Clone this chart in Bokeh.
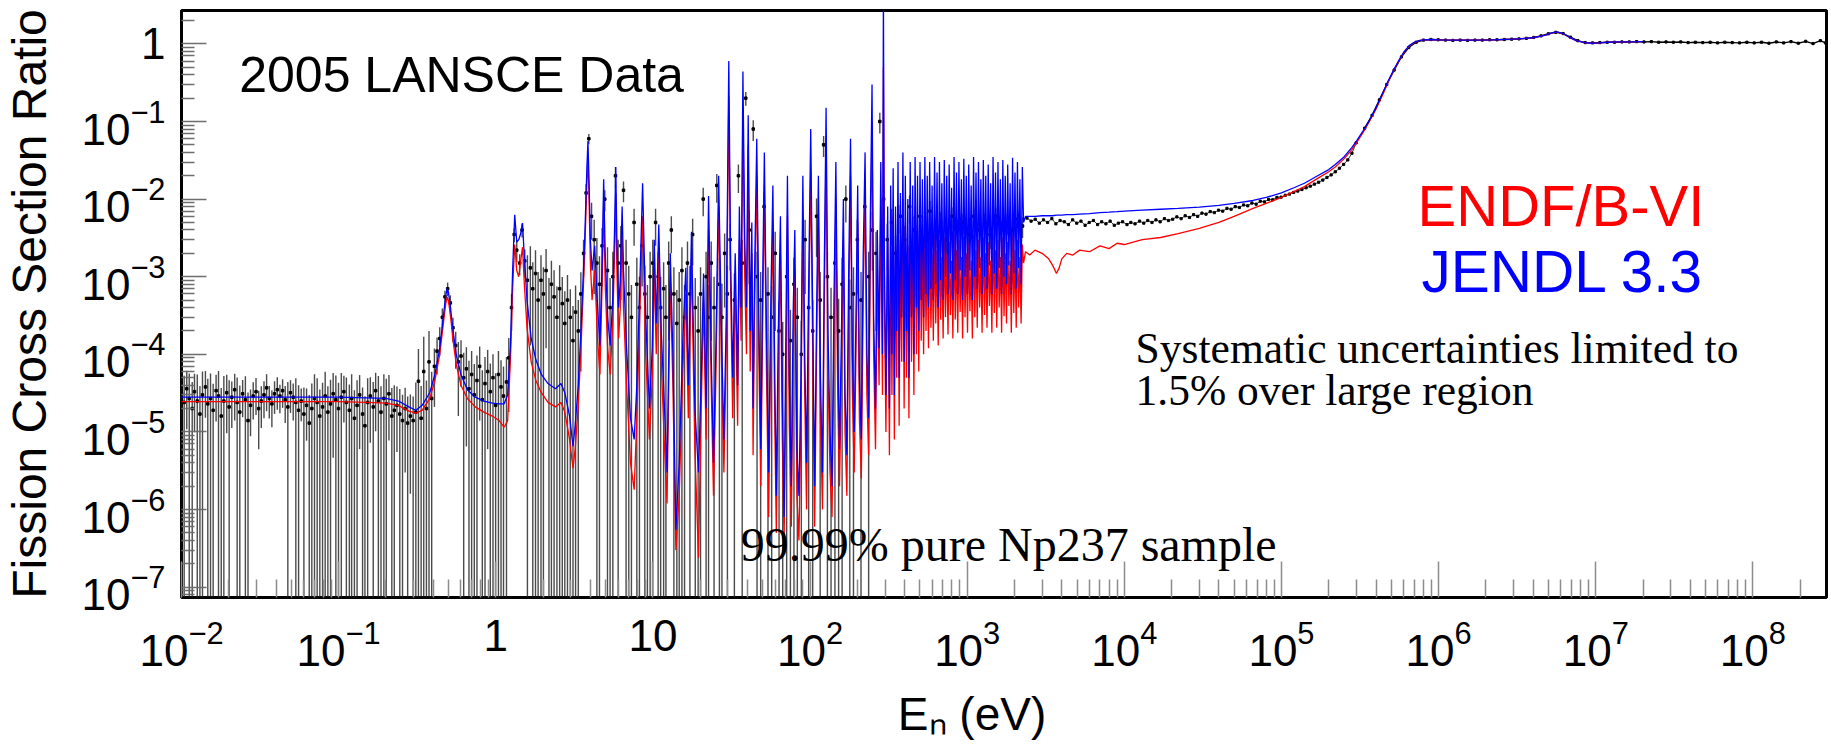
from bokeh.plotting import figure
from bokeh.models import FixedTicker, LogTickFormatter, Label, ColumnDataSource
from bokeh.embed import file_html
from bokeh.resources import INLINE

# ---------------- evaluated curves (ENDF/B-VI red, JENDL 3.3 blue) ----------------
E_res = [0.01, 0.05, 0.1, 0.15, 0.2, 0.24, 0.28, 0.31, 0.34, 0.38,
         0.41, 0.44, 0.465, 0.48, 0.49, 0.50, 0.515, 0.535, 0.56, 0.6,
         0.66, 0.74, 0.84, 0.95, 1.05, 1.13, 1.19, 1.24, 1.28, 1.32,
         1.36, 1.40, 1.44, 1.48, 1.52, 1.58, 1.68, 1.8, 1.95, 2.15,
         2.4, 2.6, 2.75, 2.95, 3.1, 3.2, 3.35, 3.5, 3.68, 3.8,
         3.86, 3.92, 4.0, 4.1, 4.26, 4.45, 4.6, 4.75, 4.86, 4.97,
         5.15, 5.35, 5.55, 5.7, 5.8, 5.9, 6.05, 6.2, 6.37, 6.5,
         6.8, 7.2, 7.6, 7.9, 8.2, 8.6, 9.0, 9.5, 9.9, 10.2,
         10.5, 10.9, 11.3, 11.8, 12.3, 12.9, 13.4, 14.0, 14.7, 15.5,
         16.2, 16.8, 17.6, 18.5, 19.5, 20.3, 21.0, 21.8, 22.6, 23.5,
         24.3, 25.2, 26.2, 27.3, 28.3, 29.3, 30.4, 31.2, 32.2, 33.4,
         34.6, 35.5, 36.4, 37.4, 38.4, 39.4, 40.4, 41.6, 42.6, 43.4,
         44.4, 45.8, 47.2, 48.6, 50.0, 51.2, 52.8, 54.5, 56.3, 58.0,
         59.5, 61.0, 62.8, 64.8, 66.6, 68.4, 70.0, 71.8, 73.8, 76.0,
         78.0, 80.0, 82.5, 85.0, 87.5, 90.0, 92.5, 95.0, 98.0, 101,
         104, 107, 110, 113, 116.5, 120, 123, 126.5, 130, 134,
         138, 142, 146, 150, 154, 158.5, 163, 167, 171.5, 176,
         181, 186, 191, 196, 201, 206, 212, 218, 224, 230,
         236, 242, 248, 254, 261, 268, 275, 282, 289, 293,
         297, 304, 312]
jendl_res = [2.8e-5, 2.8e-5, 2.8e-5, 2.75e-5, 2.7e-5, 2.5e-5, 2.1e-5, 1.9e-5, 2.2e-5, 3.2e-5,
             5.5e-5, 1.2e-4, 3.2e-4, 5.6e-4, 7.0e-4, 6.3e-4, 4.0e-4, 2.0e-4, 1.0e-4, 5.5e-5,
             3.5e-5, 2.8e-5, 2.5e-5, 2.35e-5, 2.3e-5, 2.3e-5, 3.0e-5, 1.3e-4, 1.2e-3, 6.3e-3,
             2.8e-3, 3.0e-3, 3.6e-3, 4.9e-3, 1.8e-3, 5e-4, 1.6e-4, 8.5e-5, 5.5e-5, 4.2e-5,
             3.6e-5, 4.2e-5, 3.2e-5, 1.6e-5, 6.5e-6, 1.2e-5, 4e-5, 2.5e-4, 3e-3, 2.5e-2,
             5.6e-2, 1.8e-2, 3e-3, 1.2e-3, 2.5e-3, 4e-4, 1.3e-4, 1.5e-3, 1.8e-2, 2e-3,
             3e-4, 1.3e-4, 5e-4, 4e-3, 2.6e-2, 3e-3, 4e-4, 9e-4, 8e-3, 1.2e-3,
             1.2e-4, 1.5e-5, 8e-6, 4e-5, 5e-4, 1.6e-2, 3e-4, 2e-5, 1.2e-4, 3e-3,
             2.5e-4, 4.7e-3, 2e-4, 2.5e-5, 3e-6, 2e-3, 1e-4, 5.5e-7, 4e-6, 1.5e-4,
             1.3e-3, 4e-5, 3.8e-3, 2e-5, 3e-6, 5e-5, 1.1e-3, 2e-5, 1.1e-2, 1e-4,
             4e-6, 1.5e-4, 2e-2, 2e-4, 8e-6, 3e-4, 0.6, 2e-3, 5e-5, 2e-3,
             4e-5, 8e-3, 4e-4, 0.44, 3e-3, 4e-4, 0.12, 2e-4, 5e-3, 2e-5,
             1.2e-3, 0.06, 3e-4, 6e-6, 1e-3, 4e-2, 2e-4, 3e-6, 5e-4, 1.5e-2,
             8e-5, 1.5e-6, 2e-4, 6e-3, 3e-5, 8e-7, 1e-4, 2e-2, 5e-5, 2e-6,
             3e-4, 4e-3, 6e-6, 1.5e-6, 5e-5, 2e-2, 1e-4, 4e-6, 8e-4, 8e-2,
             3e-4, 2e-6, 3e-4, 2e-2, 5e-5, 3e-6, 1e-3, 0.15, 2e-4, 1e-5,
             2e-6, 5e-4, 3e-2, 1e-4, 6e-6, 2e-4, 1e-2, 3e-5, 5e-6, 1e-3,
             6e-2, 1e-4, 1e-5, 3e-4, 1.5e-2, 5e-5, 8e-6, 2e-3, 4e-2, 1e-4,
             1.5e-5, 6e-3, 0.3, 3e-4, 2e-5, 4e-3, 1.2e-4, 3e-2, 1e-4, 5.0,
             2e-3, 3e-5, 8e-3]
endf_res = [2.45e-5, 2.45e-5, 2.45e-5, 2.4e-5, 2.35e-5, 2.2e-5, 1.85e-5, 1.75e-5, 1.9e-5, 2.7e-5,
            4.6e-5, 1.0e-4, 2.6e-4, 4.4e-4, 5.5e-4, 4.9e-4, 3.1e-4, 1.5e-4, 7.5e-5, 4.0e-5,
            2.7e-5, 2.1e-5, 1.8e-5, 1.6e-5, 1.4e-5, 1.15e-5, 1.4e-5, 8.5e-5, 7e-4, 2.6e-3,
            1.2e-3, 1.0e-3, 1.6e-3, 2.4e-3, 8e-4, 2.2e-4, 8e-5, 4.6e-5, 3.2e-5, 2.4e-5,
            2.1e-5, 2.4e-5, 1.8e-5, 8e-6, 3.4e-6, 6e-6, 2.2e-5, 1.5e-4, 2e-3, 1.6e-2,
            3.5e-2, 1.1e-2, 1.5e-3, 5e-4, 1.2e-3, 1.5e-4, 5.5e-5, 8e-4, 9e-3, 8e-4,
            1.2e-4, 5.5e-5, 2.5e-4, 2e-3, 1.2e-2, 1.2e-3, 1.6e-4, 4e-4, 3.5e-3, 4e-4,
            4e-5, 4e-6, 1.8e-6, 1.5e-5, 2e-4, 6e-3, 1e-4, 8e-6, 5e-5, 1.3e-3,
            1e-4, 2e-3, 8e-5, 8e-6, 1.2e-6, 9e-4, 4e-5, 3e-7, 1.5e-6, 6e-5,
            6e-4, 1.5e-5, 1.6e-3, 6e-6, 2.4e-7, 2e-5, 5e-4, 8e-6, 4e-3, 4e-5,
            1.5e-6, 6e-5, 8e-3, 8e-5, 3e-6, 1.2e-4, 0.21, 8e-4, 1.5e-5, 8e-4,
            1.2e-5, 3e-3, 1.5e-4, 0.15, 1e-3, 1e-4, 0.05, 6e-5, 2e-3, 5e-6,
            4e-4, 0.02, 1e-4, 2e-6, 3e-4, 1.5e-2, 6e-5, 8e-7, 1.5e-4, 5e-3,
            2e-5, 5e-7, 6e-5, 2e-3, 8e-6, 4e-7, 3e-5, 6e-3, 1.2e-5, 6e-7,
            1e-4, 1.2e-3, 1.5e-6, 4e-7, 1.5e-5, 6e-3, 3e-5, 1e-6, 2.5e-4, 2.5e-2,
            1e-4, 6e-7, 1e-4, 6e-3, 1.5e-5, 1e-6, 3e-4, 0.05, 6e-5, 3e-6,
            8e-7, 1.5e-4, 1e-2, 3e-5, 2e-6, 6e-5, 3e-3, 1e-5, 1.5e-6, 3e-4,
            2e-2, 3e-5, 3e-6, 1e-4, 5e-3, 1.5e-5, 2.5e-6, 6e-4, 1.2e-2, 3e-5,
            5e-6, 2e-3, 0.1, 1e-4, 6e-6, 1.2e-3, 4e-5, 1e-2, 3e-5, 0.5,
            6e-4, 1e-5, 3e-3]

E_band = [320, 326, 332, 338, 344, 350, 356, 363, 369, 376,
          383, 390, 397, 404, 411, 419, 426, 434, 442, 450,
          458, 466, 475, 483, 492, 501, 510, 519, 528, 538,
          547, 557, 567, 577, 588, 598, 609, 620, 631, 643,
          654, 666, 678, 690, 703, 715, 728, 741, 755, 768,
          782, 796, 811, 825, 840, 855, 871, 886, 902, 919,
          935, 952, 969, 987, 1005, 1023, 1041, 1060, 1079, 1098,
          1118, 1138, 1159, 1180, 1201, 1222, 1244, 1267, 1290, 1313,
          1337, 1361, 1385, 1410, 1436, 1461, 1488, 1515, 1542, 1570,
          1598, 1627, 1656, 1686, 1716, 1747, 1779, 1811, 1843, 1876,
          1910, 1945, 1980, 2015, 2052, 2089, 2126, 2165, 2204, 2244,
          2284]
jendl_band = [2e-5, 1.5e-2, 1e-4, 2.5e-2, 3e-5, 8e-3, 2e-4, 3e-2, 5e-5, 1.2e-2,
              3e-4, 4e-2, 8e-5, 2e-2, 2e-4, 1e-2, 5e-5, 3e-2, 3e-4, 1.5e-2,
              1e-4, 3.5e-2, 4e-4, 2e-2, 2e-4, 3e-2, 5e-4, 1.8e-2, 3e-4, 3.5e-2,
              6e-4, 2e-2, 4e-4, 3e-2, 7e-4, 1.5e-2, 5e-4, 3.5e-2, 8e-4, 2.2e-2,
              4e-4, 3e-2, 9e-4, 1.6e-2, 5e-4, 3.2e-2, 1e-3, 2e-2, 6e-4, 2.8e-2,
              1.1e-3, 1.4e-2, 5e-4, 3.5e-2, 9e-4, 2.2e-2, 6e-4, 3e-2, 1.2e-3, 1.8e-2,
              5e-4, 3.3e-2, 1e-3, 2e-2, 6e-4, 2.8e-2, 1.2e-3, 1.5e-2, 5e-4, 3.5e-2,
              1e-3, 2.2e-2, 7e-4, 3e-2, 1.3e-3, 1.8e-2, 6e-4, 3.2e-2, 1e-3, 2e-2,
              7e-4, 2.8e-2, 1.4e-3, 1.6e-2, 6e-4, 3.5e-2, 1.1e-3, 2.2e-2, 7e-4, 3e-2,
              1.3e-3, 1.8e-2, 6e-4, 3.2e-2, 1e-3, 2e-2, 8e-4, 2.8e-2, 1.4e-3, 1.6e-2,
              6e-4, 3.4e-2, 1.1e-3, 2.2e-2, 7e-4, 3e-2, 1.3e-3, 1.8e-2, 8e-4, 2.6e-2,
              5e-3]
endf_band = [5e-6, 4e-3, 3e-5, 6e-3, 8e-6, 2.5e-3, 5e-5, 8e-3, 1.2e-5, 3e-3,
             8e-5, 1e-2, 2e-5, 5e-3, 5e-5, 2.5e-3, 1.5e-5, 7e-3, 8e-5, 4e-3,
             3e-5, 8e-3, 1e-4, 4e-3, 6e-5, 5e-3, 1.5e-4, 3e-3, 1e-4, 4e-3,
             2e-4, 2.5e-3, 1.2e-4, 3.5e-3, 2.2e-4, 2e-3, 1.5e-4, 3.5e-3, 2.5e-4, 2.2e-3,
             1.3e-4, 3e-3, 2.8e-4, 1.8e-3, 1.6e-4, 3.2e-3, 3e-4, 2e-3, 1.8e-4, 2.8e-3,
             3.2e-4, 1.6e-3, 1.6e-4, 3.5e-3, 2.8e-4, 2.2e-3, 1.9e-4, 3e-3, 3.5e-4, 1.8e-3,
             1.6e-4, 3.3e-3, 3e-4, 2e-3, 1.9e-4, 2.8e-3, 3.6e-4, 1.6e-3, 1.6e-4, 3.5e-3,
             3e-4, 2.2e-3, 2.2e-4, 3e-3, 4e-4, 1.8e-3, 1.9e-4, 3.2e-3, 3.2e-4, 2e-3,
             2.2e-4, 2.8e-3, 4.2e-4, 1.6e-3, 1.9e-4, 3.5e-3, 3.4e-4, 2.2e-3, 2.2e-4, 3e-3,
             4e-4, 1.8e-3, 1.9e-4, 3.2e-3, 3.1e-4, 2e-3, 2.5e-4, 2.8e-3, 4.2e-4, 1.6e-3,
             1.9e-4, 3.4e-3, 3.4e-4, 2.2e-3, 2.2e-4, 3e-3, 4e-4, 1.8e-3, 2.5e-4, 2.6e-3,
             1.5e-3]

E_fast = [2350, 2500, 2700, 3000, 3300, 3500, 3700, 3850, 4000, 4300,
          4700, 5200, 6000, 7000, 8000, 9000, 1e4, 1.3e4, 1.7e4, 2.2e4,
          3e4, 4e4, 5e4, 6.6e4, 8e4, 1e5, 1.2e5, 1.4e5, 1.7e5, 2e5,
          2.2e5, 2.5e5, 2.8e5, 3e5, 3.3e5, 3.6e5, 4e5, 4.4e5, 4.8e5, 5.2e5,
          5.6e5, 6e5, 6.5e5, 7e5, 7.5e5, 8e5, 9e5, 1e6, 1.3e6, 1.7e6,
          2.2e6, 3e6, 4e6, 4.8e6, 5.3e6, 5.7e6, 6.2e6, 6.8e6, 7.5e6, 8.5e6,
          9.5e6, 1.05e7, 1.2e7, 1.4e7, 1.7e7, 2e7]
jendl_fast = [6.0e-3, 6.0e-3, 6.0e-3, 6.1e-3, 6.1e-3, 6.1e-3, 6.2e-3, 6.2e-3, 6.2e-3, 6.3e-3,
              6.3e-3, 6.4e-3, 6.5e-3, 6.7e-3, 6.8e-3, 6.9e-3, 7.0e-3, 7.2e-3, 7.4e-3, 7.6e-3,
              7.9e-3, 8.3e-3, 8.8e-3, 9.6e-3, 1.05e-2, 1.2e-2, 1.4e-2, 1.6e-2, 2e-2, 2.4e-2,
              2.8e-2, 3.5e-2, 4.6e-2, 5.6e-2, 7.5e-2, 0.1, 0.15, 0.23, 0.34, 0.47,
              0.62, 0.78, 0.95, 1.05, 1.1, 1.13, 1.14, 1.13, 1.12, 1.12,
              1.13, 1.15, 1.2, 1.3, 1.4, 1.43, 1.36, 1.22, 1.1, 1.04,
              1.02, 1.03, 1.05, 1.06, 1.06, 1.07]
endf_fast = [2.1e-3, 1.9e-3, 2.2e-3, 2.0e-3, 1.7e-3, 1.4e-3, 1.1e-3, 1.3e-3, 1.7e-3, 2.0e-3,
             1.9e-3, 2.2e-3, 2.1e-3, 2.5e-3, 2.3e-3, 2.7e-3, 2.6e-3, 3.0e-3, 3.2e-3, 3.6e-3,
             4.2e-3, 5.0e-3, 6.0e-3, 7.6e-3, 8.8e-3, 1.05e-2, 1.25e-2, 1.45e-2, 1.85e-2, 2.25e-2,
             2.6e-2, 3.3e-2, 4.3e-2, 5.3e-2, 7.2e-2, 0.097, 0.145, 0.22, 0.33, 0.46,
             0.61, 0.77, 0.94, 1.04, 1.1, 1.13, 1.14, 1.13, 1.12, 1.12,
             1.13, 1.15, 1.2, 1.3, 1.39, 1.42, 1.35, 1.21, 1.1, 1.04,
             1.02, 1.03, 1.05, 1.06, 1.06, 1.07]

# ---------------- 2005 LANSCE data (value, relative error) ----------------
E_thermal = [0.0100, 0.0104, 0.0108, 0.0112, 0.0117, 0.0121, 0.0126, 0.0131, 0.0136, 0.0142,
             0.0147, 0.0153, 0.0159, 0.0166, 0.0172, 0.0179, 0.0186, 0.0194, 0.0201, 0.0209,
             0.0218, 0.0226, 0.0235, 0.0245, 0.0255, 0.0265, 0.0275, 0.0286, 0.0298, 0.0310,
             0.0322, 0.0335, 0.0348, 0.0362, 0.0376, 0.0391, 0.0407, 0.0423, 0.0440, 0.0457,
             0.0475, 0.0494, 0.0514, 0.0534, 0.0556, 0.0578, 0.0601, 0.0625, 0.0650, 0.0675,
             0.0702, 0.0730, 0.0759, 0.0790, 0.0821, 0.0854, 0.0888, 0.0923, 0.0960, 0.0998,
             0.104, 0.108, 0.112, 0.117, 0.121, 0.126, 0.131, 0.136, 0.142, 0.147,
             0.153, 0.159, 0.166, 0.172, 0.179, 0.186, 0.194, 0.201, 0.209, 0.218,
             0.226, 0.235, 0.245, 0.255, 0.265, 0.275, 0.286, 0.298]
ratio_thermal_e5 = [3.1, 2.4, 3.6, 2.7, 2.0, 3.3, 2.5, 1.7, 3.0, 3.8,
                    2.3, 2.7, 1.9, 3.4, 2.9, 1.6, 2.5, 3.2, 2.1, 2.8,
                    3.5, 2.4, 1.8, 3.1, 2.6, 1.4, 2.2, 2.9, 3.3, 2.0,
                    2.5, 3.0, 3.7, 2.7, 2.3, 3.1, 3.5, 2.9, 3.4, 2.6,
                    2.1, 3.2, 2.8, 2.4, 1.9, 2.5, 1.7, 2.2, 1.3, 2.0,
                    2.7, 2.4, 1.6, 2.1, 2.9, 1.8, 2.3, 3.1, 2.6, 2.0,
                    2.8, 3.3, 2.4, 1.9, 2.7, 1.5, 2.2, 3.0, 1.7, 1.2,
                    2.4, 2.9, 2.1, 3.4, 2.5, 1.8, 2.7, 2.3, 3.1, 1.6,
                    1.9, 2.2, 1.7, 1.4, 2.0, 1.3, 1.6, 1.4]
relerr_thermal = [1.1, 1.2, 0.7, 1.1, 1.2, 0.7, 1.2, 1.3, 1.0, 0.6,
                  1.1, 1.1, 1.2, 0.6, 1.1, 1.3, 1.1, 0.7, 1.2, 0.6,
                  0.6, 1.1, 1.2, 0.5, 1.0, 1.3, 0.6, 0.5, 0.5, 0.7,
                  0.55, 0.5, 0.5, 0.45, 0.5, 0.45, 0.45, 0.4, 0.4, 0.5,
                  1.1, 0.45, 0.5, 1.05, 1.1, 0.45, 1.2, 0.65, 1.3, 1.1,
                  1.05, 1.05, 1.2, 1.05, 1.05, 1.15, 1.05, 0.85, 1.05, 1.15,
                  1.05, 0.6, 1.1, 1.15, 1.05, 1.3, 1.1, 0.8, 1.2, 1.4,
                  1.05, 0.75, 1.1, 0.7, 1.1, 1.15, 1.05, 1.1, 0.75, 1.3,
                  1.1, 0.75, 1.1, 1.15, 0.85, 1.2, 0.9, 1.05]

E_epi = [0.310, 0.322, 0.335, 0.348, 0.362, 0.376, 0.391, 0.407, 0.423, 0.440,
         0.457, 0.475, 0.494, 0.514, 0.534, 0.556, 0.578, 0.601, 0.625, 0.650,
         0.675, 0.702, 0.730, 0.759, 0.790, 0.821, 0.854, 0.888, 0.923, 0.960,
         0.998, 1.04, 1.08, 1.12, 1.17, 1.21, 1.26, 1.31, 1.36, 1.42,
         1.47, 1.53, 1.59, 1.66, 1.72, 1.79, 1.86, 1.94, 2.01, 2.09,
         2.18, 2.26, 2.35, 2.45, 2.55, 2.65, 2.75, 2.86, 2.98, 3.10,
         3.22, 3.35, 3.48, 3.62, 3.76, 3.91, 4.07, 4.23, 4.40, 4.57,
         4.75, 4.94, 5.14, 5.34, 5.56, 5.78, 6.01, 6.25, 6.50, 6.75,
         7.02, 7.30, 7.59, 7.90, 8.21, 8.54, 8.88, 9.23, 9.60, 9.98,
         10.4, 10.8, 11.2, 11.7, 12.1, 12.6, 13.1, 13.6, 14.2, 14.7,
         15.3, 15.9, 16.6, 17.2, 17.9, 18.6, 19.4, 20.1, 20.9, 21.8,
         22.6, 23.5, 24.5, 25.5, 26.5, 27.5, 28.6, 29.8]
ratio_epi = [1.8e-5, 4.5e-5, 1.5e-5, 6.0e-5, 2.0e-5, 8.0e-5, 2.7e-5, 7e-5, 1.1e-4, 1.6e-4,
             3.0e-4, 5.5e-4, 7e-4, 4.6e-4, 2.2e-4, 1.3e-4, 8e-5, 9.5e-5, 5.0e-5, 6.5e-5,
             3.6e-5, 5.5e-5, 3.0e-5, 4.6e-5, 7.0e-5, 2.6e-5, 4.2e-5, 6.0e-5, 3.3e-5, 5.0e-5,
             2.2e-5, 5.5e-5, 3.8e-5, 2.9e-5, 4.4e-5, 9e-5, 4e-4, 3.5e-3, 2.2e-3, 1.5e-3,
             4e-3, 1.6e-3, 9e-4, 1.3e-3, 7e-4, 1.1e-3, 5e-4, 9e-4, 6e-4, 1.2e-3,
             4e-4, 8e-4, 5.5e-4, 3e-4, 7e-4, 4.5e-4, 2.5e-4, 5e-4, 3e-4, 1.5e-4,
             3.5e-4, 2e-4, 6e-4, 2e-3, 1.2e-2, 6e-2, 6e-3, 3e-3, 1.5e-3, 8e-4,
             2.5e-3, 1e-2, 1.2e-3, 4e-4, 1e-3, 2e-2, 1.5e-3, 2.5e-3, 1.3e-2, 1.5e-3,
             6e-4, 3e-4, 5e-3, 8e-4, 4e-4, 2.5e-3, 6e-4, 3e-4, 1e-3, 1.5e-3,
             5e-3, 1e-3, 4e-4, 7e-4, 3e-4, 1.5e-3, 4e-3, 6e-4, 2.5e-4, 5e-4,
             1.2e-3, 3e-4, 1.5e-3, 6e-4, 3.5e-3, 4e-4, 2e-4, 6e-4, 1e-2, 1e-3,
             3e-4, 1.5e-3, 4e-4, 1.5e-2, 8e-4, 3e-4, 2e-3, 6e-4]
relerr_epi = [1.4, 1.6, 1.6, 1.8, 1.3, 1.5, 1.2, 0.7, 0.5, 0.4,
              0.3, 0.2, 0.2, 0.25, 0.35, 0.5, 0.8, 0.6, 1.1, 0.9,
              1.3, 1.0, 1.5, 1.1, 0.8, 1.4, 1.2, 0.9, 1.3, 1.0,
              1.6, 1.0, 1.2, 1.4, 1.1, 0.8, 0.5, 0.2, 0.3, 0.3,
              0.2, 0.4, 1.1, 0.9, 1.2, 1.0, 1.3, 1.1, 1.2, 0.9,
              1.4, 1.0, 1.2, 1.5, 1.0, 1.2, 1.6, 1.1, 1.3, 1.8,
              1.2, 1.5, 0.9, 0.5, 0.3, 0.15, 0.5, 0.8, 1.1, 1.3,
              0.7, 0.3, 1.0, 1.4, 1.1, 0.3, 1.0, 0.8, 0.3, 1.0,
              1.3, 1.6, 0.5, 1.2, 1.5, 0.7, 1.3, 1.6, 1.1, 1.0,
              0.5, 1.1, 1.5, 1.2, 1.6, 0.9, 0.5, 1.2, 1.7, 1.3,
              1.0, 1.6, 0.9, 1.3, 0.6, 1.4, 1.8, 1.2, 0.4, 1.1,
              1.6, 0.9, 1.5, 0.4, 1.2, 1.7, 0.8, 1.3]

E_resdata = [31, 33, 35, 37, 39, 41, 43.5, 46, 48.5, 51,
             54, 57, 60, 63.5, 67, 71, 75, 79, 83, 88,
             93, 98, 104, 110, 116, 122, 129, 136, 144, 152,
             160, 169, 179, 189, 200, 211, 223, 236, 249, 263,
             278, 294, 310, 330, 350, 375, 400, 430, 460, 500,
             540, 580, 630, 680, 740, 800, 870, 940, 1020, 1100,
             1200, 1300, 1400, 1520, 1650, 1800, 1950, 2100, 2250]
ratio_resdata = [3e-3, 5e-4, 2e-2, 1.5e-3, 0.2, 4e-3, 0.08, 1e-3, 5e-4, 8e-3,
                 6e-4, 3e-4, 2e-3, 2e-4, 1e-4, 1e-3, 1.5e-4, 8e-4, 3e-4, 1e-4,
                 3e-3, 4e-4, 2e-4, 6e-3, 5e-4, 0.05, 1e-3, 3e-4, 1.5e-3, 2e-4,
                 8e-4, 1e-2, 4e-4, 6e-4, 3e-3, 5e-4, 8e-3, 1e-3, 4e-3, 2e-3,
                 0.1, 1e-2, 3e-3, 5e-3, 2e-3, 6e-3, 3e-3, 8e-3, 4e-3, 6e-3,
                 3e-3, 7e-3, 4e-3, 5e-3, 3e-3, 6e-3, 4e-3, 5e-3, 3.5e-3, 6e-3,
                 4e-3, 5e-3, 3.5e-3, 6e-3, 4e-3, 5e-3, 4e-3, 5.5e-3, 4.5e-3]
relerr_resdata = [0.6, 1.2, 0.4, 1.0, 0.2, 0.8, 0.3, 1.1, 1.3, 0.5,
                  1.2, 1.5, 0.9, 1.4, 1.6, 1.1, 1.5, 1.2, 1.4, 1.7,
                  0.8, 1.3, 1.5, 0.7, 1.3, 0.3, 1.1, 1.4, 1.0, 1.6,
                  1.2, 0.5, 1.3, 1.2, 0.8, 1.3, 0.6, 1.1, 0.7, 0.9,
                  0.3, 0.5, 0.6, 0.5, 0.7, 0.4, 0.5, 0.4, 0.5, 0.4,
                  0.4, 0.35, 0.4, 0.35, 0.4, 0.3, 0.35, 0.3, 0.35, 0.3,
                  0.3, 0.3, 0.35, 0.3, 0.3, 0.3, 0.3, 0.25, 0.3]

E_unres = [2400, 2550, 2710, 2880, 3060, 3250, 3460, 3670, 3900, 4150,
           4410, 4690, 4980, 5300, 5630, 5980, 6360, 6760, 7180, 7640,
           8120, 8630, 9170, 9750, 10400, 11000, 11700, 12500, 13300, 14100,
           15000, 15900, 16900, 18000, 19100, 20300, 21600, 23000, 24400, 26000,
           27600, 29300, 31200, 33100, 35200, 37400, 39800, 42300, 45000, 47800,
           50800, 54000, 57400, 61000, 64900, 69000, 73300, 77900, 82800, 88000,
           93600, 99500, 105800, 112400, 119500, 127000, 135000, 143500, 152600, 162200,
           172400, 183300, 194800, 207100, 220100, 234000, 248700, 264400, 281000, 298700]
ratio_unres = [5.7e-3, 5.2e-3, 5.5e-3, 4.9e-3, 5.4e-3, 5.0e-3, 5.6e-3, 4.8e-3, 5.3e-3, 5.1e-3,
               4.7e-3, 5.4e-3, 4.9e-3, 5.2e-3, 4.6e-3, 5.0e-3, 5.3e-3, 4.7e-3, 5.1e-3, 4.8e-3,
               5.2e-3, 4.6e-3, 4.9e-3, 5.1e-3, 4.7e-3, 5.0e-3, 4.8e-3, 5.2e-3, 4.9e-3, 5.3e-3,
               5.0e-3, 5.4e-3, 5.1e-3, 5.6e-3, 5.3e-3, 5.5e-3, 5.9e-3, 5.6e-3, 6.1e-3, 5.8e-3,
               6.3e-3, 6.0e-3, 6.6e-3, 6.4e-3, 6.9e-3, 6.7e-3, 7.2e-3, 7.0e-3, 7.6e-3, 7.4e-3,
               8.0e-3, 7.8e-3, 8.4e-3, 8.2e-3, 8.9e-3, 8.6e-3, 9.4e-3, 9.2e-3, 9.9e-3, 9.8e-3,
               1.05e-2, 1.06e-2, 1.12e-2, 1.16e-2, 1.22e-2, 1.27e-2, 1.33e-2, 1.40e-2, 1.47e-2, 1.56e-2,
               1.65e-2, 1.76e-2, 1.9e-2, 2.05e-2, 2.25e-2, 2.5e-2, 2.8e-2, 3.2e-2, 3.9e-2, 5.3e-2]

E_fastdata = [338700, 377200, 420100, 467900,
              521100, 580300, 646300, 719800, 801600, 892800, 994300, 1.107e6, 1.233e6, 1.373e6,
              1.529e6, 1.703e6, 1.897e6, 2.113e6, 2.353e6, 2.62e6, 2.918e6, 3.25e6, 3.62e6, 4.03e6,
              4.49e6, 5e6, 5.57e6, 6.2e6, 6.91e6, 7.69e6, 8.57e6, 9.54e6, 1.063e7, 1.184e7,
              1.318e7, 1.468e7, 1.635e7, 1.821e7, 2.028e7, 2.259e7, 2.516e7, 2.802e7, 3.12e7, 3.475e7,
              3.87e7, 4.31e7, 4.8e7, 5.35e7, 5.96e7, 6.63e7, 7.39e7, 8.23e7, 9.16e7, 1.02e8,
              1.136e8, 1.266e8, 1.41e8, 1.57e8, 1.748e8, 1.947e8, 2.169e8, 2.415e8, 2.69e8, 2.9e8]
ratio_fastdata = [8.2e-2, 0.12, 0.19, 0.3,
                  0.46, 0.68, 0.9, 1.05, 1.12, 1.14, 1.13, 1.12, 1.11, 1.12,
                  1.11, 1.12, 1.12, 1.13, 1.13, 1.14, 1.15, 1.16, 1.18, 1.21,
                  1.27, 1.35, 1.41, 1.36, 1.22, 1.1, 1.04, 1.03, 1.04, 1.05,
                  1.05, 1.06, 1.06, 1.07, 1.06, 1.07, 1.05, 1.06, 1.05, 1.06,
                  1.04, 1.05, 1.04, 1.05, 1.03, 1.05, 1.04, 1.03, 1.05, 1.03,
                  1.05, 1.02, 1.06, 1.03, 1.07, 1.02, 1.08, 1.01, 1.1, 1.03]

x_tick_values = [1e-2, 1e-1, 1, 10, 100, 1e3, 1e4, 1e5, 1e6, 1e7, 1e8]
y_tick_values = [1e-7, 1e-6, 1e-5, 1e-4, 1e-3, 1e-2, 1e-1, 1]

# ---------------- assemble ----------------
def trim(*lists):
    n = min(len(l) for l in lists)
    return [l[:n] for l in lists]

E_c1, j1, e1 = trim(E_res, jendl_res, endf_res)
E_c2, j2, e2 = trim(E_band, jendl_band, endf_band)
E_c3, j3, e3 = trim(E_fast, jendl_fast, endf_fast)
E_curve = E_c1 + E_c2 + E_c3
jendl = j1 + j2 + j3
endf = e1 + e2 + e3

ratio_thermal = [v * 1e-5 for v in ratio_thermal_e5]
bx, by, br = [], [], []
for E, y, r in [trim(E_thermal, ratio_thermal, relerr_thermal),
                trim(E_epi, ratio_epi, relerr_epi),
                trim(E_resdata, ratio_resdata, relerr_resdata)]:
    bx += E; by += y; br += r
lo = [max(y * (1 - r), 1e-9) for y, r in zip(by, br)]
hi = [y * (1 + r) for y, r in zip(by, br)]
data_src = ColumnDataSource(dict(x=bx, y=by, lo=lo, hi=hi))
Eu, yu = trim(E_unres, ratio_unres)
Ef, yf = trim(E_fastdata, ratio_fastdata)

p = figure(width=1831, height=750, x_axis_type="log", y_axis_type="log",
           x_range=(1e-2, 2.942e8), y_range=(7.35e-8, 2.694),
           output_backend="svg", toolbar_location=None,
           min_border_left=173, min_border_right=5, min_border_top=10, min_border_bottom=153)
p.background_fill_color = "white"
p.border_fill_color = "white"
p.grid.visible = False
p.outline_line_color = "black"
p.outline_line_width = 3

# data
p.segment(x0="x", y0="lo", x1="x", y1="hi", source=data_src,
          line_color="#1e1e1e", line_alpha=0.8, line_width=1.4)
p.scatter("x", "y", source=data_src, marker="square", size=2.5, color="black")
p.line(Eu, yu, line_color="black", line_width=1.0, line_alpha=0.8)
p.scatter(Eu, yu, marker="square", size=2.2, color="black")
p.line(Ef, yf, line_color="black", line_width=1.4)
p.scatter(Ef, yf, marker="square", size=2.2, color="black")
# evaluations
p.line(E_curve, endf, line_color="#ff0000", line_width=1.3)
p.line(E_curve, jendl, line_color="#0000ff", line_width=1.3)

# axes
xminor = [m * 10.0 ** k for k in range(-3, 9) for m in range(2, 10)]
yminor = [m * 10.0 ** k for k in range(-8, 1) for m in range(2, 10)]
p.xaxis.ticker = FixedTicker(ticks=x_tick_values, minor_ticks=xminor)
p.yaxis.ticker = FixedTicker(ticks=y_tick_values, minor_ticks=yminor)
for ax in (p.xaxis[0], p.yaxis[0]):
    ax.formatter = LogTickFormatter()
    ax.major_label_overrides = {1: "1", 10: "10"}
    ax.major_label_text_font = "Liberation Sans"
    ax.major_label_text_font_size = "44px"
    ax.major_label_text_color = "black"
    ax.axis_line_color = None
    ax.major_tick_out = 0
    ax.minor_tick_out = 0
    ax.axis_label_text_font = "Liberation Sans"
    ax.axis_label_text_font_style = "normal"
    ax.axis_label_text_color = "black"

p.xaxis.major_tick_in = 36
p.xaxis.minor_tick_in = 18
p.xaxis.major_tick_line_color = "#8c8c8c"
p.xaxis.minor_tick_line_color = "#8c8c8c"
p.xaxis.major_tick_line_width = 1.5
p.xaxis.minor_tick_line_width = 1.5
p.xaxis.major_label_standoff = 22
p.xaxis.axis_label = "E\u2099 (eV)" + "\u00a0" * 5
p.xaxis.axis_label_text_font_size = "46px"
p.xaxis.axis_label_standoff = 19

p.yaxis.major_tick_in = 25
p.yaxis.minor_tick_in = 13
p.yaxis.major_tick_line_color = "#6e6e6e"
p.yaxis.minor_tick_line_color = "#6e6e6e"
p.yaxis.major_tick_line_width = 1.5
p.yaxis.minor_tick_line_width = 1.5
p.yaxis.major_label_standoff = 16
p.yaxis.axis_label = "Fission Cross Section Ratio"
p.yaxis.axis_label_text_font_size = "48px"
p.yaxis.axis_label_standoff = 22

# annotations
def lab(x, y, text, font, size, color):
    p.add_layout(Label(x=x, y=y, text=text, text_font=font, text_font_size=size,
                       text_color=color, text_align="left", text_baseline="alphabetic"))

lab(0.0233, 0.392, "2005 LANSCE Data", "Liberation Sans", "50px", "black")
lab(7.35e5, 8.27e-3, "ENDF/B-VI", "Liberation Sans", "58px", "#ff0000")
lab(7.78e5, 1.17e-3, "JENDL 3.3", "Liberation Sans", "58.5px", "#0000ff")
lab(1.18e4, 1.22e-4, "Systematic uncertainties limited to", "Liberation Serif", "43.5px", "black")
lab(1.18e4, 3.52e-5, "1.5% over large region", "Liberation Serif", "43.5px", "black")
lab(36.2, 3.54e-7, "99.99% pure Np237 sample", "Liberation Serif", "48px", "black")

open("out.html", "w").write(file_html(p, INLINE))
